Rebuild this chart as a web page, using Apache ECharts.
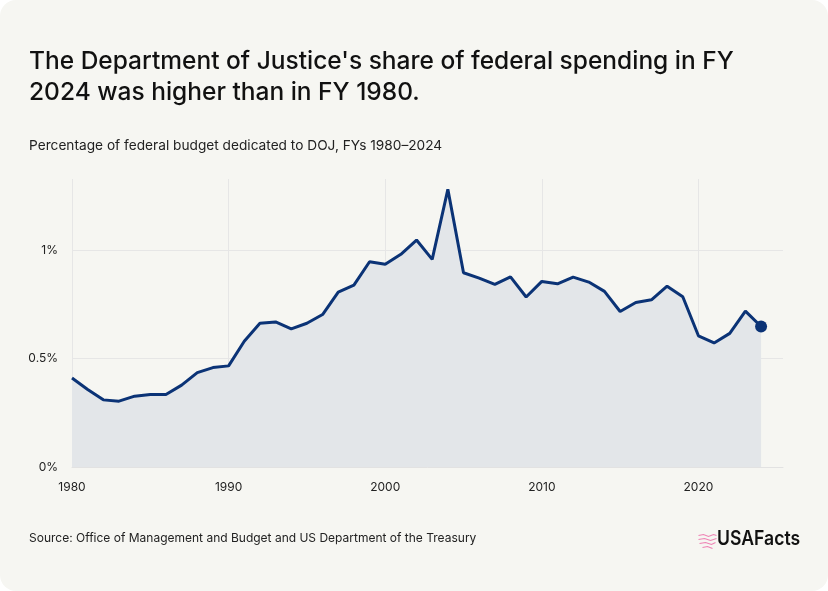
<!DOCTYPE html>
<html>
<head>
<meta charset="utf-8">
<script src="https://cdn.jsdelivr.net/npm/echarts@6/dist/echarts.min.js"></script>
<style>
  html, body { margin: 0; padding: 0; background: #ffffff; }
  #card { width: 828px; height: 591px; background: #f6f6f2; border-radius: 16px; overflow: hidden; }
</style>
</head>
<body>
<div id="card"></div>
<script>
// years and DOJ share of federal budget (%)
var years = [1980, 1981, 1982, 1983, 1984, 1985, 1986, 1987, 1988, 1989,
             1990, 1991, 1992, 1993, 1994, 1995, 1996, 1997, 1998, 1999,
             2000, 2001, 2002, 2003, 2004, 2005, 2006, 2007, 2008, 2009,
             2010, 2011, 2012, 2013, 2014, 2015, 2016, 2017, 2018, 2019,
             2020, 2021, 2022, 2023, 2024];
var share = [0.411, 0.358, 0.310, 0.304, 0.327, 0.335, 0.335, 0.378, 0.436, 0.459,
             0.467, 0.581, 0.664, 0.670, 0.638, 0.664, 0.704, 0.808, 0.840, 0.948,
             0.936, 0.982, 1.048, 0.959, 1.282, 0.897, 0.872, 0.843, 0.878, 0.785,
             0.857, 0.846, 0.877, 0.854, 0.811, 0.718, 0.760, 0.772, 0.835, 0.786,
             0.606, 0.573, 0.617, 0.720, 0.649];
var yTicks = [0, 0.5, 1];

var title = "The Department of Justice's share of federal spending in FY\n2024 was higher than in FY 1980.";
var subtitle = 'Percentage of federal budget dedicated to DOJ, FYs 1980\u20132024';
var source = 'Source: Office of Management and Budget and US Department of the Treasury';

var font = 'Inter, "Noto Sans", sans-serif';
var navy = '#0b3376';
var pink = '#ee82b4';

var pts = [];
for (var i = 0; i < years.length; i++) pts.push([years[i], share[i]]);
var last = pts[pts.length - 1];

var chart = echarts.init(document.getElementById('card'), null, { renderer: 'canvas' });

chart.setOption({
  backgroundColor: 'transparent',
  animation: false,
  title: [
    {
      text: title, left: 29, top: 46, padding: 0,
      textStyle: { fontFamily: font, fontSize: 24.5, fontWeight: 500, color: '#111', lineHeight: 31 }
    },
    {
      text: subtitle, left: 29, top: 137, padding: 0,
      textStyle: { fontFamily: font, fontSize: 13.7, fontWeight: 400, color: '#222', lineHeight: 18 }
    },
    {
      text: source, left: 29, top: 530, padding: 0,
      textStyle: { fontFamily: font, fontSize: 12, fontWeight: 400, color: '#222', lineHeight: 16 }
    }
  ],
  grid: { left: 72, right: 45, top: 179, bottom: 124 },
  xAxis: {
    type: 'value',
    min: 1980, max: 2025.4, interval: 10,
    axisLine: { show: true, lineStyle: { color: '#e2e2e2', width: 1 } },
    axisTick: { show: false },
    splitLine: { show: true, showMaxLine: false, lineStyle: { color: '#e6e6e6', width: 1 } },
    axisLabel: {
      showMaxLabel: false, margin: 14,
      fontFamily: font, fontSize: 12, color: '#222',
      formatter: function (v) { return v % 10 === 0 ? String(v) : ''; }
    }
  },
  yAxis: {
    type: 'value',
    min: 0, max: 1.33, interval: 0.5,
    axisLine: { show: false },
    axisTick: { show: false },
    splitLine: { show: true, showMaxLine: false, lineStyle: { color: '#e6e6e6', width: 1 } },
    axisLabel: {
      showMaxLabel: false, margin: 14,
      fontFamily: font, fontSize: 12, color: '#222',
      formatter: function (v) { return yTicks.indexOf(v) >= 0 ? v + '%' : ''; }
    }
  },
  series: [
    {
      type: 'line',
      data: pts,
      symbol: 'none',
      lineStyle: { color: navy, width: 3 },
      areaStyle: { color: '#e3e6e9', opacity: 1 },
      z: 2
    },
    {
      type: 'scatter',
      data: [last],
      symbolSize: 12,
      itemStyle: { color: navy, opacity: 1 },
      z: 3
    }
  ],
  graphic: [
    // USAFacts logo: small pink map mark plus wordmark
    {
      type: 'group', left: 696, top: 532,
      children: [
        { type: 'polyline', shape: { points: [[0, 1], [5, 0], [10, 2], [15, 0], [18, 1]] }, style: { stroke: pink, lineWidth: 1.1, fill: null } },
        { type: 'polyline', shape: { points: [[0, 5], [6, 4], [12, 6], [18, 4]] }, style: { stroke: pink, lineWidth: 1.1, fill: null } },
        { type: 'polyline', shape: { points: [[1, 9], [7, 8], [13, 10], [17, 8]] }, style: { stroke: pink, lineWidth: 1.1, fill: null } },
        { type: 'polyline', shape: { points: [[4, 13], [9, 12], [14, 14]] }, style: { stroke: pink, lineWidth: 1.1, fill: null } }
      ]
    },
    {
      type: 'text', x: 717, y: 529, scaleX: 0.88,
      style: { text: 'USAFacts', fontFamily: font, fontSize: 20, fontWeight: 600, fill: '#111' }
    }
  ]
});
</script>
</body>
</html>
